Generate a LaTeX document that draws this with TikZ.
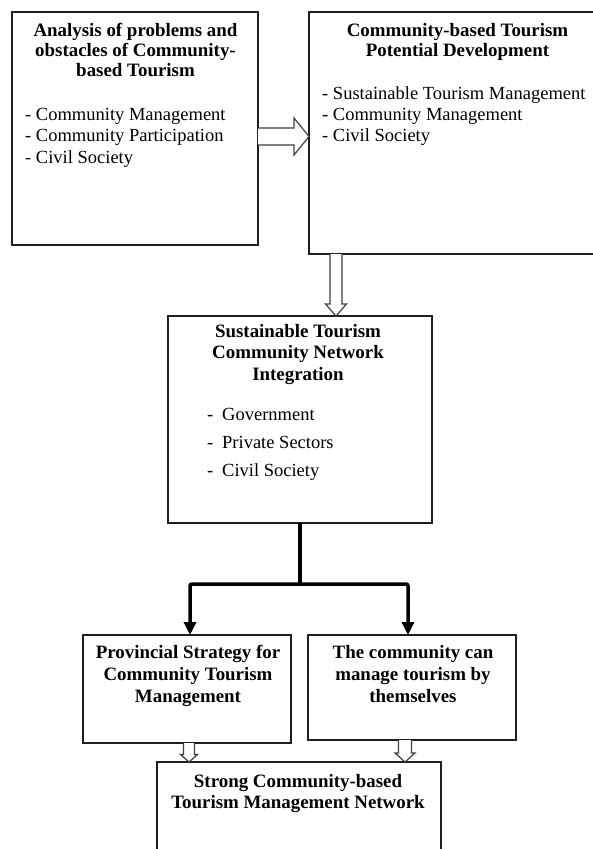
\documentclass[tikz,border=0pt]{standalone}
\usepackage{fontspec}
\setmainfont{Liberation Serif}
\usetikzlibrary{arrows.meta,calc}
\begin{document}
\begin{tikzpicture}[x=1pt,y=-1pt,
  box/.style={draw=black!88, line width=1.4pt, inner sep=0pt, outer sep=0pt},
  ttl/.style={font=\fontsize{18.9}{#1}\selectfont\bfseries, align=center, inner sep=0pt, anchor=base},
  ttl/.default=21,
  lst/.style={font=\fontsize{18.5}{#1}\selectfont, align=left, inner sep=0pt, anchor=base west},
  lst/.default=21.5,
  hollow/.style={draw=black!75, line width=1.2pt, fill=white, line join=miter},
  trunk/.style={line width=3.5pt, draw=black, rounded corners=2pt}]
\useasboundingbox (0,0) rectangle (593,849);
\fill[white] (0,0) rectangle (593,849);

% boxes
\node[box, minimum width=246pt, minimum height=233pt] (b1) at (135,128.5) {};
\node[box, minimum width=298pt, minimum height=242pt] (b2) at (458,133) {};
\node[box, minimum width=264pt, minimum height=207pt] (b3) at (300,419.5) {};
\node[box, minimum width=208pt, minimum height=108pt] (b4) at (187,689) {};
\node[box, minimum width=208pt, minimum height=105pt] (b5) at (412,687.5) {};
\node[box, minimum width=284pt, minimum height=118pt] (b6) at (299,821) {};

% texts (anchor = baseline of the last line)
\node[ttl=20] (t1) at (135.5,76) {Analysis of problems and\\obstacles of Community-\\based Tourism};
\node[lst=21.5] (l1) at (25,163) {- Community Management\\- Community Participation\\- Civil Society};
\node[ttl=20] (t2) at (457.5,56) {Community-based Tourism\\Potential Development};
\node[lst=21] (l2) at (322,141) {- Sustainable Tourism Management\\- Community Management\\- Civil Society};
\node[ttl=21.5] (t3) at (298,380) {Sustainable Tourism\\Community Network\\Integration};
\node[lst=28] (l3) at (207,476) {\makebox[15pt][l]{-}Government\\\makebox[15pt][l]{-}Private Sectors\\\makebox[15pt][l]{-}Civil Society};
\node[ttl=22] (t4) at (188,702) {Provincial Strategy for\\Community Tourism\\Management};
\node[ttl=22] (t5) at (413,702) {The community can\\manage tourism by\\themselves};
\node[ttl=21] (t6) at (298,808) {Strong Community-based\\Tourism Management Network};

% helper coordinates
\coordinate (hy) at (0,136.5);
\coordinate (vx) at (336,0);
\coordinate (ax4) at (190,0);
\coordinate (ax5) at (408,0);
\coordinate (sx4) at (189,0);
\coordinate (sx5) at (405,0);
\coordinate (split) at (300,584);

% hollow arrow b1 -> b2
\coordinate (h1) at (b1.east |- hy);
\coordinate (h2) at (b2.west |- hy);
\draw[hollow] ($(h1)+(0,-8.5)$) -- ($(h2)+(-15,-8.5)$) -- ($(h2)+(-15,-18.5)$) -- (h2)
  -- ($(h2)+(-15,18.5)$) -- ($(h2)+(-15,8.5)$) -- ($(h1)+(0,8.5)$);

% hollow arrow b2 -> b3
\coordinate (v1) at (b2.south -| vx);
\coordinate (v2) at (b3.north -| vx);
\draw[hollow] ($(v1)+(-6,0)$) -- ($(v2)+(-6,-12)$) -- ($(v2)+(-10.5,-12)$) -- (v2)
  -- ($(v2)+(10.5,-12)$) -- ($(v2)+(6,-12)$) -- ($(v1)+(6,0)$);

% hollow arrow b4 -> b6
\coordinate (s1) at (b4.south -| sx4);
\coordinate (s2) at (b6.north -| sx4);
\draw[hollow] ($(s1)+(-5.5,0)$) -- ($(s2)+(-5.5,-7.5)$) -- ($(s2)+(-8.5,-7.5)$) -- (s2)
  -- ($(s2)+(8.5,-7.5)$) -- ($(s2)+(5.5,-7.5)$) -- ($(s1)+(5.5,0)$);

% hollow arrow b5 -> b6
\coordinate (r1) at (b5.south -| sx5);
\coordinate (r2) at (b6.north -| sx5);
\draw[hollow] ($(r1)+(-6.5,0)$) -- ($(r2)+(-6.5,-9)$) -- ($(r2)+(-10,-9)$) -- (r2)
  -- ($(r2)+(10,-9)$) -- ($(r2)+(6.5,-9)$) -- ($(r1)+(6.5,0)$);

% thick branching connector
\draw[trunk] (b3.south) -- (split);
\draw[trunk, -{Triangle[width=12pt,length=13pt]}] (split) -| (b4.north -| ax4);
\draw[trunk, -{Triangle[width=12pt,length=13pt]}] (split) -| (b5.north -| ax5);
\end{tikzpicture}
\end{document}
